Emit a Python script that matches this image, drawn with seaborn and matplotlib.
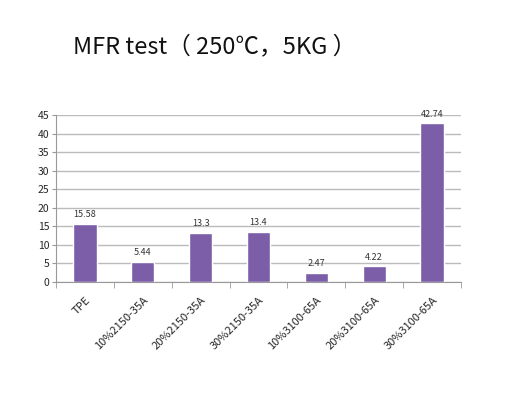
import numpy as np
import pandas as pd
import matplotlib
matplotlib.use("Agg")
import matplotlib.pyplot as plt
import seaborn as sns

# data
samples = ["TPE", "10%2150-35A", "20%2150-35A", "30%2150-35A",
           "10%3100-65A", "20%3100-65A", "30%3100-65A"]
mfr = [15.58, 5.44, 13.3, 13.4, 2.47, 4.22, 42.74]
labels = ["15.58", "5.44", "13.3", "13.4", "2.47", "4.22", "42.74"]

df = pd.DataFrame({"sample": samples, "mfr": mfr})

sns.set_style("white")
plt.rcParams['font.family'] = ['Noto Sans CJK SC', 'DejaVu Sans']

fig = plt.figure(figsize=(5.19, 3.95), dpi=100)
ax = fig.add_axes([0.108, 0.286, 0.78, 0.423])

sns.barplot(data=df, x="sample", y="mfr", color="#7B5EA7", saturation=1,
            width=0.4, ax=ax, zorder=3)

for i, (v, t) in enumerate(zip(mfr, labels)):
    ax.text(i, v + 1.3, t, ha="center", va="bottom", fontsize=6.5, color="#333333")

ax.set_ylim(0, 45)
ax.set_xlim(-0.5, 6.5)
ax.set_yticks(np.arange(0, 46, 5))
ax.yaxis.grid(True, color="#BBBBBB", linewidth=1, zorder=0)
ax.set_xlabel("")
ax.set_ylabel("")

for s in ["top", "right"]:
    ax.spines[s].set_visible(False)
for s in ["left", "bottom"]:
    ax.spines[s].set_color("#999999")
    ax.spines[s].set_linewidth(0.8)

ax.tick_params(axis="y", left=True, length=3, color="#999999", labelsize=7.5, pad=2)
ax.set_xticks(range(len(samples)))
ax.set_xticklabels(samples, rotation=45, ha="right", rotation_mode="anchor", fontsize=8)
ax.tick_params(axis="x", bottom=False, pad=6)
ax.set_xticks(np.arange(-0.5, 7, 1), minor=True)
ax.tick_params(axis="x", which="minor", bottom=True, length=4, color="#999999")

fig.text(0.14, 0.866, "MFR test（ 250℃，5KG ）", fontsize=17, color="#111111",
         va="baseline")

fig.savefig("out.png", dpi=100)
